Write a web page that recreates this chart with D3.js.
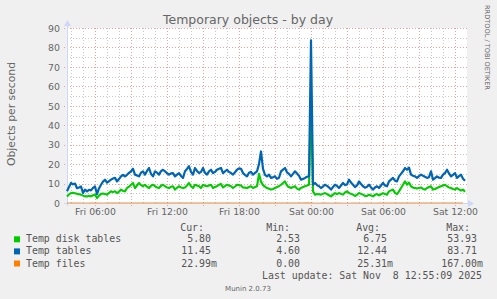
<!DOCTYPE html>
<html><head><meta charset="utf-8">
<script src="https://cdn.jsdelivr.net/npm/d3@7"></script>
<style>
html,body{margin:0;padding:0;background:#F0F0F0;}
svg{display:block;}
text{font-family:"DejaVu Sans",sans-serif;fill:#666;}
.mono{font-family:"DejaVu Sans Mono",monospace;font-size:9.9px;fill:#555;}
</style></head>
<body>
<script>
// ---- data ----
const startTime = new Date(2025, 10, 7, 3, 40);
const stepMinutes = 10;
const tempDiskTables = [
 3.4,4.4,5.1,5.3,5.0,4.7,4.5,4.3,3.8,3.4,
 3.4,3.7,3.4,4.0,4.3,2.53,3.8,4.7,4.9,4.6,
 4.3,5.2,6.0,5.6,6.0,5.1,5.8,6.9,6.2,6.0,
 7.7,8.4,9.4,10.3,7.7,9.0,10.3,9.2,8.6,9.4,
 8.4,7.7,8.9,9.4,8.6,8.0,7.7,8.9,9.4,8.6,
 8.0,7.7,8.3,8.6,6.9,7.8,8.6,8.0,7.7,8.0,
 9.0,10.3,8.6,7.7,9.4,9.0,8.6,7.7,9.4,8.9,
 8.6,9.0,9.4,7.7,8.2,8.6,9.4,9.8,8.0,8.7,
 9.4,9.0,8.6,7.7,8.5,9.4,9.2,9.0,8.0,7.9,
 7.7,8.2,8.6,7.7,8.2,8.6,15.0,11.0,9.2,8.4,
 7.7,7.3,6.9,7.2,7.7,8.2,8.6,9.4,10.3,11.1,
 9.0,8.2,7.7,8.2,8.6,7.4,6.9,7.7,8.2,8.6,
 9.0,9.4,53.93,6.0,4.3,4.6,4.5,4.3,4.7,5.1,
 4.6,4.0,3.4,4.3,5.1,4.6,5.1,4.7,4.3,5.4,
 6.0,5.1,4.7,4.3,3.6,4.2,5.1,4.7,4.3,3.6,
 3.6,4.3,3.9,3.4,4.2,4.6,3.9,4.5,5.1,4.6,
 4.3,6.0,6.5,6.9,5.2,4.6,6.0,7.7,9.4,11.1,
 9.4,10.5,8.6,7.9,7.7,7.4,7.7,8.0,7.2,6.9,
 7.7,8.2,8.6,6.9,7.2,7.7,8.2,8.6,9.0,9.4,
 8.6,8.0,7.7,7.2,6.9,7.7,7.0,6.4,6.9,5.80];
const tempTables = [
 6.0,8.2,10.3,9.6,10.0,7.6,8.0,8.5,5.2,6.9,
 6.0,6.8,6.5,7.8,8.5,4.6,7.5,9.4,11.0,12.0,
 10.5,11.2,12.0,12.6,12.9,11.1,12.3,13.7,14.5,13.7,
 14.5,15.5,16.3,17.6,14.6,14.2,13.7,15.6,16.3,14.6,
 16.5,18.0,15.0,13.7,16.3,15.6,14.6,16.4,17.1,16.3,
 15.4,14.6,15.2,15.4,13.7,14.6,15.4,13.9,12.9,16.3,
 17.5,18.9,16.0,14.6,18.0,16.5,15.4,16.0,18.0,15.5,
 14.6,16.3,17.1,15.4,16.0,17.1,17.6,18.0,15.4,16.3,
 17.1,16.0,15.4,14.6,15.8,17.1,17.8,17.6,15.4,14.5,
 13.7,15.6,16.0,14.6,15.5,16.3,20.0,26.5,17.5,14.5,
 13.7,14.6,12.9,13.2,13.7,12.4,13.0,16.3,17.2,18.0,
 15.8,15.0,13.7,15.0,16.3,15.2,14.0,12.0,12.4,12.9,
 13.5,13.7,83.71,9.4,10.3,9.2,8.6,7.7,8.5,9.4,
 8.8,8.0,6.9,8.2,9.4,8.8,7.7,9.0,10.3,9.2,
 9.5,12.0,10.5,9.4,8.2,9.0,11.1,9.8,8.6,7.9,
 8.4,9.4,8.0,6.9,8.0,8.6,7.7,9.0,10.3,9.0,
 8.6,11.1,12.0,12.9,11.5,11.1,13.7,15.0,16.3,18.0,
 17.1,18.2,14.6,14.0,13.7,12.9,13.8,14.6,14.0,13.5,
 12.9,13.3,16.3,12.0,12.8,13.7,13.0,12.9,14.6,15.4,
 17.1,15.2,13.7,14.5,15.4,12.9,13.8,14.6,12.5,11.45];
const filesStepMinutes = 30;
const tempFiles = [
 0.02,0.03,0.02,0.01,0.03,0.02,0.00,0.02,0.03,0.02,
 0.03,0.04,0.02,0.03,0.02,0.03,0.04,0.03,0.02,0.03,
 0.04,0.03,0.02,0.03,0.02,0.04,0.03,0.02,0.03,0.02,
 0.03,0.05,0.03,0.02,0.03,0.02,0.03,0.02,0.03,0.02,
 0.167,0.02,0.01,0.02,0.01,0.02,0.00,0.01,0.02,0.01,
 0.02,0.01,0.02,0.03,0.02,0.03,0.04,0.03,0.02,0.03,
 0.02,0.03,0.02,0.03,0.02,0.03,0.0229];
const seriesNames = ["Temp disk tables","Temp tables","Temp files"];
const seriesColors = ["#00CC00","#0066B3","#FF8000"];
const curVals = ["5.80","11.45","22.99m"];
const minVals = ["2.53","4.60","0.00"];
const avgVals = ["6.75","12.44","25.31m"];
const maxVals = ["53.93","83.71","167.00m"];
const yTicks = [0,10,20,30,40,50,60,70,80,90];
const xTickLabels = ["Fri 06:00","Fri 12:00","Fri 18:00","Sat 00:00","Sat 06:00","Sat 12:00"];
const xTickTimes = [new Date(2025,10,7,6),new Date(2025,10,7,12),new Date(2025,10,7,18),
                    new Date(2025,10,8,0),new Date(2025,10,8,6),new Date(2025,10,8,12)];

// ---- chart ----
const W = 497, H = 299;
const L = 67, R = 467, T = 28, B = 203;
const svg = d3.select("body").append("svg").attr("width", W).attr("height", H);
svg.append("rect").attr("width", W).attr("height", H).attr("fill", "#F0F0F0");

const x = d3.scaleTime().domain([new Date(2025,10,7,3,40), new Date(2025,10,8,13,0)]).range([L, R]);
const y = d3.scaleLinear().domain([0, 90]).range([B, T]);

svg.append("rect").attr("x", L).attr("y", T).attr("width", R - L).attr("height", B - T).attr("fill", "#fff");

// grid
const g = svg.append("g").attr("shape-rendering", "crispEdges");
const minorY = d3.range(5, 90, 10);
g.selectAll(".gy").data(minorY).enter().append("line")
  .attr("x1", L).attr("x2", R).attr("y1", d => Math.round(y(d)) + 0.5).attr("y2", d => Math.round(y(d)) + 0.5)
  .attr("stroke", "#c8c8c8").attr("stroke-dasharray", "1,2");
const hours = d3.timeHour.range(x.domain()[0], x.domain()[1]);
g.selectAll(".gx").data(hours.filter(h => h.getHours() % 3 !== 0)).enter().append("line")
  .attr("x1", d => Math.round(x(d)) + 0.5).attr("x2", d => Math.round(x(d)) + 0.5).attr("y1", T).attr("y2", B)
  .attr("stroke", "#c8c8c8").attr("stroke-dasharray", "1,2");
g.selectAll(".my").data(yTicks).enter().append("line")
  .attr("x1", L - 3).attr("x2", R).attr("y1", d => Math.round(y(d)) + 0.5).attr("y2", d => Math.round(y(d)) + 0.5)
  .attr("stroke", "#e8a0a0").attr("stroke-dasharray", "1,2");
g.selectAll(".mx").data(hours.filter(h => h.getHours() % 3 === 0)).enter().append("line")
  .attr("x1", d => Math.round(x(d)) + 0.5).attr("x2", d => Math.round(x(d)) + 0.5).attr("y1", T).attr("y2", B + 3)
  .attr("stroke", "#e8a0a0").attr("stroke-dasharray", "1,2");

// axes lines + arrows
svg.append("line").attr("x1", L + 0.5).attr("x2", L + 0.5).attr("y1", T - 4).attr("y2", B + 3).attr("stroke", "#CFD6F8");
svg.append("line").attr("x1", L - 3).attr("x2", R + 3).attr("y1", B + 0.5).attr("y2", B + 0.5).attr("stroke", "#CFD6F8");
svg.append("path").attr("d", `M${L-3},${T-2} L${L+4},${T-2} L${L+0.5},${T-8} Z`).attr("fill", "#CFD6F8");
svg.append("path").attr("d", `M${R+1},${B-3} L${R+1},${B+4} L${R+7},${B+0.5} Z`).attr("fill", "#CFD6F8");

// axis labels via d3 axes
const yAxis = d3.axisLeft(y).tickValues(yTicks).tickSize(0).tickPadding(7);
const ya = svg.append("g").attr("transform", `translate(${L},0)`).call(yAxis);
ya.select(".domain").remove();
ya.selectAll("text").attr("font-size", "9.4px").attr("fill", "#666").attr("font-family", "DejaVu Sans").attr("dy", "0.35em");

const xAxis = d3.axisBottom(x).tickValues(xTickTimes).tickFormat((d, i) => xTickLabels[i]).tickSize(0).tickPadding(5);
const xa = svg.append("g").attr("transform", `translate(0,${B})`).call(xAxis);
xa.select(".domain").remove();
xa.selectAll("text").attr("font-size", "9.3px").attr("fill", "#666").attr("font-family", "DejaVu Sans");

// series
const allSeries = [[tempDiskTables, stepMinutes], [tempTables, stepMinutes], [tempFiles, filesStepMinutes]];
const widths = [2.1, 2.2, 1.2];
const opac = [1, 1, 0.6];
allSeries.forEach(([s, step], k) => {
  const line = d3.line()
    .x((d, i) => x(d3.timeMinute.offset(startTime, i * step))).y(d => y(d));
  svg.append("path").datum(s).attr("d", line).attr("fill", "none")
    .attr("stroke", seriesColors[k]).attr("stroke-width", widths[k]).attr("stroke-opacity", opac[k])
    .attr("stroke-linejoin", "round");
});

// title etc.
svg.append("text").attr("x", 248).attr("y", 24).attr("text-anchor", "middle")
  .attr("font-size", "12.5px").attr("fill", "#555").text("Temporary objects - by day");
svg.append("text").attr("transform", "translate(15,114) rotate(-90)").attr("text-anchor", "middle")
  .attr("font-size", "10.8px").attr("fill", "#666").text("Objects per second");
svg.append("text").attr("transform", "translate(485,5) rotate(90)").attr("text-anchor", "start")
  .attr("font-size", "6.6px").attr("fill", "#d0d0d0").text("RRDTOOL / TOBI OETIKER");

// legend
const rowY = [242.3, 254.4, 266.5];
const mono = svg.append("g");
mono.append("text").attr("class", "mono").attr("x", 204).attr("y", 230.5).attr("text-anchor", "end").text("Cur:");
mono.append("text").attr("class", "mono").attr("x", 290).attr("y", 230.5).attr("text-anchor", "end").text("Min:");
mono.append("text").attr("class", "mono").attr("x", 380).attr("y", 230.5).attr("text-anchor", "end").text("Avg:");
mono.append("text").attr("class", "mono").attr("x", 470).attr("y", 230.5).attr("text-anchor", "end").text("Max:");
const cols = [[curVals, 211], [minVals, 300], [avgVals, 387], [maxVals, 477]];
seriesNames.forEach((n, k) => {
  svg.append("rect").attr("x", 14).attr("y", rowY[k] - 6).attr("width", 6).attr("height", 6).attr("fill", seriesColors[k]);
  mono.append("text").attr("class", "mono").attr("x", 26).attr("y", rowY[k]).text(n);
  cols.forEach(([vals, xr]) => {
    const v = vals[k];
    const hasUnit = /[a-zA-Z]$/.test(v);
    const num = hasUnit ? v.slice(0, -1) : v;
    mono.append("text").attr("class", "mono").attr("x", xr).attr("y", rowY[k]).attr("text-anchor", "end").text(num);
    if (hasUnit) mono.append("text").attr("class", "mono").attr("x", xr).attr("y", rowY[k]).text(v.slice(-1));
  });
});
mono.append("text").attr("class", "mono").attr("x", 482).attr("y", 278.5).attr("text-anchor", "end")
  .attr("xml:space", "preserve").style("white-space", "pre").text("Last update: Sat Nov  8 12:55:09 2025");
svg.append("text").attr("x", 248).attr("y", 291).attr("text-anchor", "middle")
  .attr("font-size", "7px").attr("fill", "#ccc").text("Munin 2.0.73");
</script>
</body></html>
